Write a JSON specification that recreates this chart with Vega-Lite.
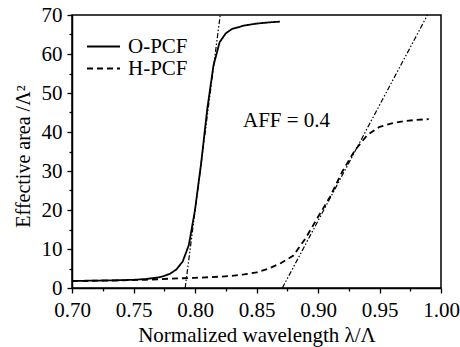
{
  "$schema": "https://vega.github.io/schema/vega-lite/v6.json",
  "autosize": {"type": "none"},
  "padding": {"left": 72, "top": 15, "right": 19, "bottom": 59},
  "width": 369,
  "height": 273,
  "background": "white",
  "config": {
    "view": {"stroke": "black", "strokeWidth": 1.5},
    "font": "'Liberation Serif', 'Times New Roman', serif",
    "axis": {
      "domainColor": "black", "domainWidth": 1.5,
      "tickColor": "black", "tickWidth": 1.3,
      "labelFont": "'Liberation Serif', 'Times New Roman', serif", "labelFontSize": 21, "labelColor": "black",
      "titleFont": "'Liberation Serif', 'Times New Roman', serif", "titleFontSize": 21, "titleFontWeight": "normal", "titleColor": "black",
      "grid": false,
      "labelOverlap": false
    },
    "legend": {
      "labelFont": "'Liberation Serif', 'Times New Roman', serif", "labelFontSize": 21, "labelColor": "black"
    }
  },
  "datasets": {
    "curves": [
      {"lam": 0.70, "area": 1.8, "series": "O-PCF"},
      {"lam": 0.72, "area": 1.9, "series": "O-PCF"},
      {"lam": 0.74, "area": 2.0, "series": "O-PCF"},
      {"lam": 0.75, "area": 2.1, "series": "O-PCF"},
      {"lam": 0.76, "area": 2.3, "series": "O-PCF"},
      {"lam": 0.77, "area": 2.7, "series": "O-PCF"},
      {"lam": 0.775, "area": 3.1, "series": "O-PCF"},
      {"lam": 0.78, "area": 3.7, "series": "O-PCF"},
      {"lam": 0.785, "area": 4.8, "series": "O-PCF"},
      {"lam": 0.79, "area": 6.8, "series": "O-PCF"},
      {"lam": 0.795, "area": 11, "series": "O-PCF"},
      {"lam": 0.80, "area": 20, "series": "O-PCF"},
      {"lam": 0.805, "area": 32, "series": "O-PCF"},
      {"lam": 0.81, "area": 46, "series": "O-PCF"},
      {"lam": 0.815, "area": 57, "series": "O-PCF"},
      {"lam": 0.82, "area": 63, "series": "O-PCF"},
      {"lam": 0.825, "area": 65.3, "series": "O-PCF"},
      {"lam": 0.83, "area": 66.4, "series": "O-PCF"},
      {"lam": 0.84, "area": 67.3, "series": "O-PCF"},
      {"lam": 0.85, "area": 67.8, "series": "O-PCF"},
      {"lam": 0.86, "area": 68.1, "series": "O-PCF"},
      {"lam": 0.869, "area": 68.3, "series": "O-PCF"},
      {"lam": 0.70, "area": 1.8, "series": "H-PCF"},
      {"lam": 0.73, "area": 1.9, "series": "H-PCF"},
      {"lam": 0.76, "area": 2.1, "series": "H-PCF"},
      {"lam": 0.78, "area": 2.4, "series": "H-PCF"},
      {"lam": 0.80, "area": 2.6, "series": "H-PCF"},
      {"lam": 0.82, "area": 2.9, "series": "H-PCF"},
      {"lam": 0.83, "area": 3.1, "series": "H-PCF"},
      {"lam": 0.84, "area": 3.5, "series": "H-PCF"},
      {"lam": 0.85, "area": 4.0, "series": "H-PCF"},
      {"lam": 0.86, "area": 5.0, "series": "H-PCF"},
      {"lam": 0.87, "area": 6.4, "series": "H-PCF"},
      {"lam": 0.88, "area": 8.3, "series": "H-PCF"},
      {"lam": 0.89, "area": 12.8, "series": "H-PCF"},
      {"lam": 0.90, "area": 18.2, "series": "H-PCF"},
      {"lam": 0.91, "area": 23.5, "series": "H-PCF"},
      {"lam": 0.92, "area": 30, "series": "H-PCF"},
      {"lam": 0.93, "area": 35.3, "series": "H-PCF"},
      {"lam": 0.94, "area": 39.2, "series": "H-PCF"},
      {"lam": 0.95, "area": 41.3, "series": "H-PCF"},
      {"lam": 0.96, "area": 42.2, "series": "H-PCF"},
      {"lam": 0.97, "area": 42.8, "series": "H-PCF"},
      {"lam": 0.98, "area": 43.1, "series": "H-PCF"},
      {"lam": 0.99, "area": 43.3, "series": "H-PCF"}
    ],
    "tangents": [
      {"lam": 0.792, "area": 0, "line": "O"},
      {"lam": 0.8205, "area": 70, "line": "O"},
      {"lam": 0.871, "area": 0, "line": "H"},
      {"lam": 0.989, "area": 70, "line": "H"}
    ],
    "notes": [
      {"lam": 0.839, "area": 42.8, "label": "AFF = 0.4"}
    ]
  },
  "encoding": {
    "x": {
      "field": "lam", "type": "quantitative",
      "scale": {"domain": [0.7, 1.0], "nice": false, "zero": false},
      "axis": {
        "title": "Normalized wavelength λ/Λ",
        "values": [0.7, 0.725, 0.75, 0.775, 0.8, 0.825, 0.85, 0.875, 0.9, 0.925, 0.95, 0.975, 1.0],
        "labelExpr": "abs(datum.value*20 - round(datum.value*20)) < 0.01 ? format(datum.value, '.2f') : ''",
        "tickSize": {"condition": {"test": "abs(datum.value*20 - round(datum.value*20)) < 0.01", "value": 5}, "value": 3},
        "labelPadding": 6,
        "titlePadding": 4,
        "labelFlush": false,
        "labelOverlap": false
      }
    },
    "y": {
      "field": "area", "type": "quantitative",
      "scale": {"domain": [0, 70], "nice": false},
      "axis": {
        "title": "Effective area /Λ²",
        "titleFontSize": 20,
        "titleY": 141,
        "values": [0, 5, 10, 15, 20, 25, 30, 35, 40, 45, 50, 55, 60, 65, 70],
        "labelExpr": "datum.value % 10 === 0 ? format(datum.value, 'd') : ''",
        "tickSize": {"condition": {"test": "datum.value % 10 === 0", "value": 5}, "value": 3},
        "labelPadding": 5,
        "titlePadding": 8,
        "labelOverlap": false
      }
    }
  },
  "layer": [
    {
      "data": {"name": "tangents"},
      "mark": {"type": "line", "color": "black", "strokeWidth": 1.2, "strokeDash": [5, 2, 1.5, 2, 1.5, 2]},
      "encoding": {
        "detail": {"field": "line"}
      }
    },
    {
      "data": {"name": "curves"},
      "mark": {"type": "line", "color": "black", "strokeWidth": 1.8},
      "encoding": {
        "strokeDash": {
          "field": "series", "type": "nominal",
          "scale": {"domain": ["O-PCF", "H-PCF"], "range": [[1, 0], [6, 4]]},
          "legend": {
            "title": null,
            "orient": "none",
            "legendX": 21,
            "legendY": 21,
            "padding": 0,
            "symbolType": "M-3,0L3,0",
            "symbolSize": 121,
            "symbolStrokeWidth": 1.8,
            "symbolStrokeColor": "black",
            "symbolFillColor": "transparent",
            "labelOffset": 14,
            "rowPadding": 0
          }
        }
      }
    },
    {
      "data": {"name": "notes"},
      "mark": {"type": "text", "align": "left", "baseline": "middle", "fontSize": 21, "font": "'Liberation Serif', 'Times New Roman', serif", "color": "black"},
      "encoding": {
        "text": {"field": "label"}
      }
    }
  ]
}
